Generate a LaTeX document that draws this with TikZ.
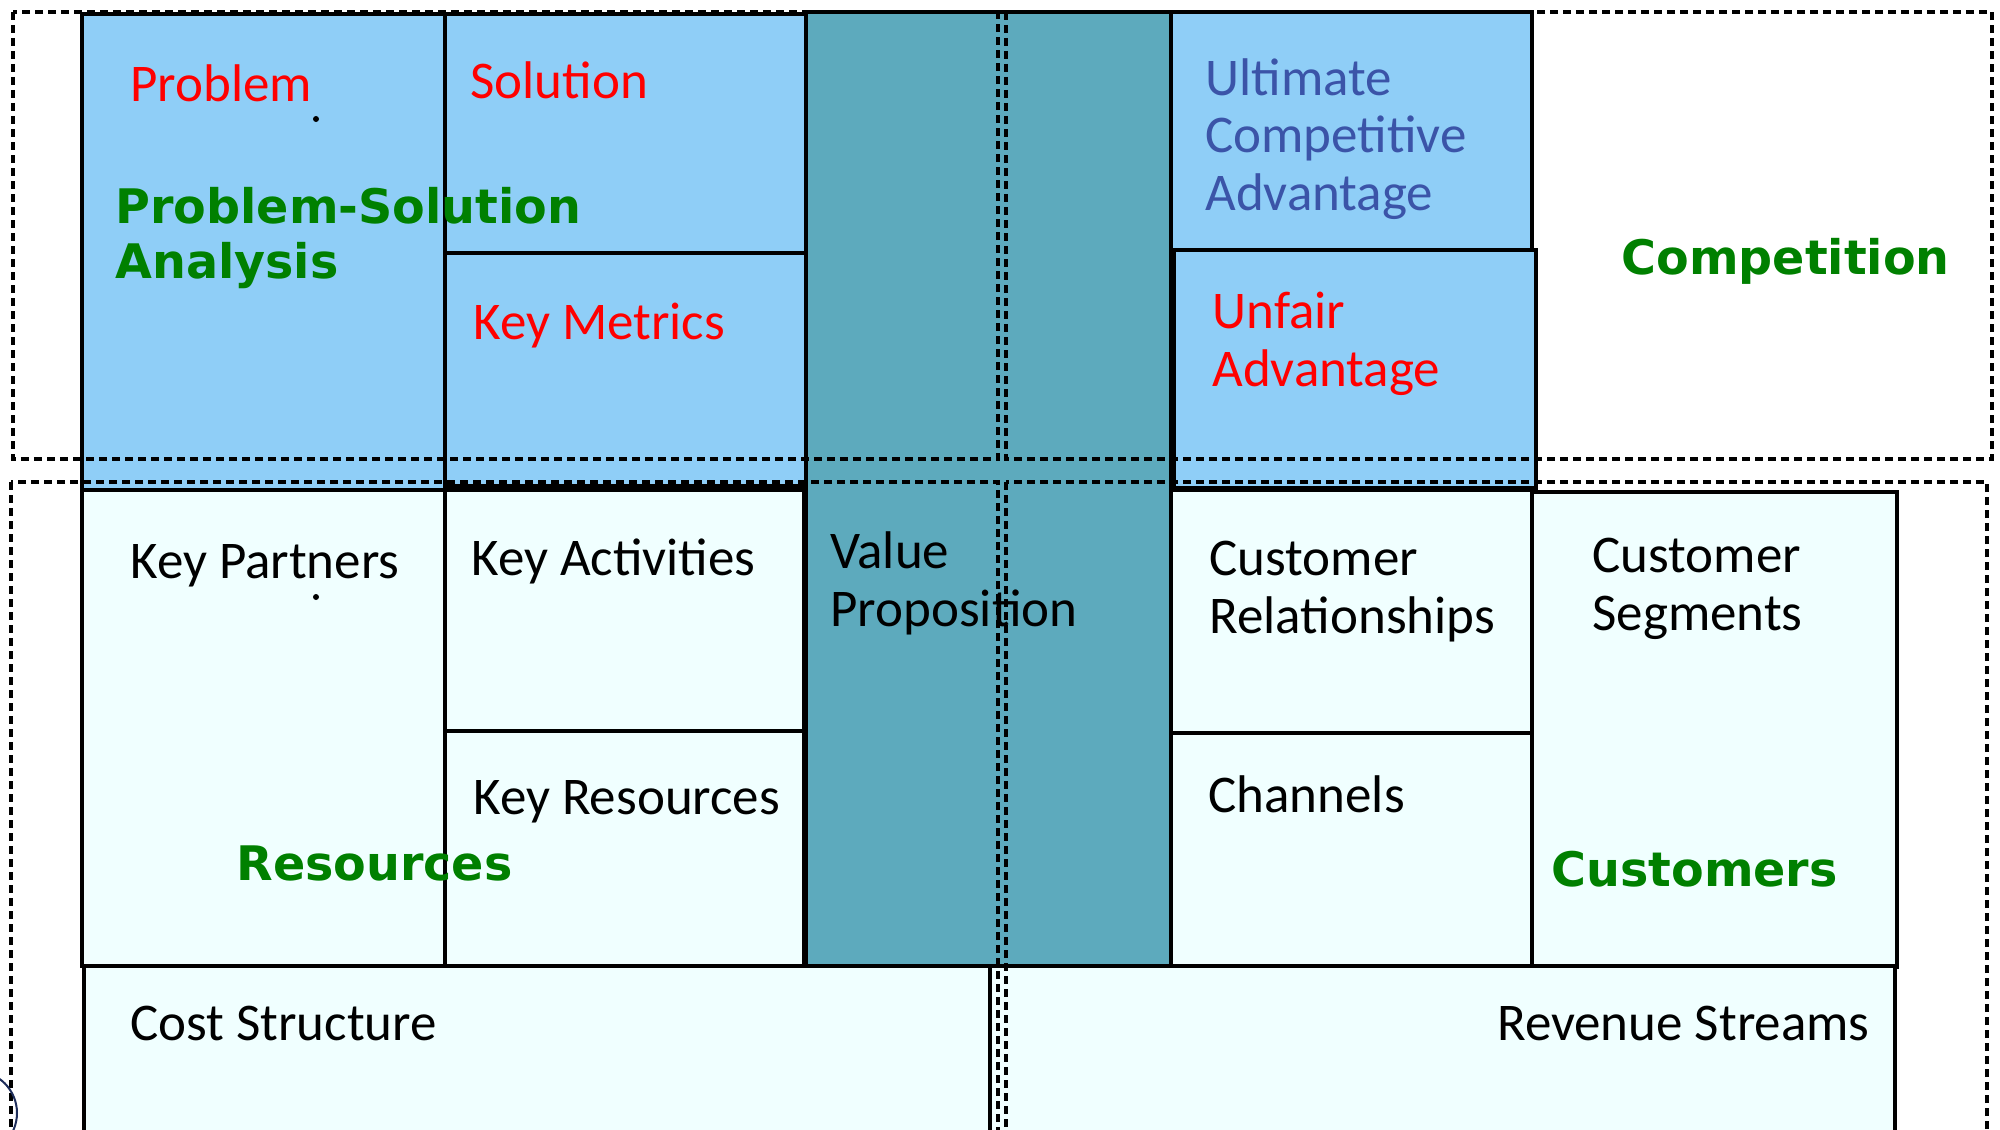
\documentclass[tikz,border=0pt]{standalone}
\usepackage{fontspec}
\setmainfont{Carlito}
\newfontfamily\headfont{DejaVu Sans}
\definecolor{psblue}{RGB}{143,206,247}
\definecolor{vpteal}{RGB}{93,170,189}
\definecolor{paleazure}{RGB}{240,255,255}
\definecolor{hdgreen}{RGB}{0,128,0}
\definecolor{ucablue}{RGB}{59,84,168}
\definecolor{ringnavy}{RGB}{30,45,90}
\begin{document}
\begin{tikzpicture}[
  x=0.5pt, y=-0.5pt,
  cell/.style={draw, line width=1.7pt},
  zone/.style={draw, line width=2pt, dash pattern=on 4pt off 2.5pt},
  txt/.style={
    anchor=base west,
    inner sep=0pt,
    align=left,
    font=\fontsize{26.5}{28.75}\selectfont
  },
  head/.style={
    anchor=base west,
    inner sep=0pt,
    align=left,
    text=hdgreen,
    font=\headfont\bfseries\fontsize{23.8}{27.5}\selectfont
  }
]
\useasboundingbox (0,0) rectangle (2000,1129);
\clip (0,0) rectangle (2000,1129);

% problem / solution side
\draw[cell, fill=psblue] (82,14) rectangle (445,490);
\draw[cell, fill=psblue] (445,14) rectangle (806,253);
\draw[cell, fill=psblue] (445,253) rectangle (806,486);
\draw[cell, fill=vpteal] (806,12) rectangle (1171,966);
\draw[cell, fill=psblue] (1171,12) rectangle (1532,250);
\draw[cell, fill=psblue] (1174,250) rectangle (1536,488);

% business model cells
\draw[cell, fill=paleazure] (82,490) rectangle (445,966);
\draw[cell, fill=paleazure] (445,490) rectangle (804,731);
\draw[cell, fill=paleazure] (445,731) rectangle (804,966);
\draw[cell, fill=paleazure] (1171,490) rectangle (1532,733);
\draw[cell, fill=paleazure] (1171,733) rectangle (1532,966);
\draw[cell, fill=paleazure] (1532,492) rectangle (1897,967);
\draw[cell, fill=paleazure] (84,966) rectangle (990,1140);
\draw[cell, fill=paleazure] (990,966) rectangle (1895,1140);

\node[txt, text=red] at (130,102) (problem) {Problem};
\node[txt, text=red] at (470,98) (solution) {Solution};
\node[txt, text=red] at (473,339) (metrics) {Key Metrics};
\node[txt, text=ucablue] at (1205,210) (uca) {Ultimate\\Competitive\\Advantage};
\node[txt, text=red] at (1212,386) (unfair) {Unfair\\Advantage};
\node[txt] at (130,578) (partners) {Key Partners};
\node[txt] at (471,575) (activities) {Key Activities};
\node[txt] at (830,626) (valueprop) {Value\\Proposition};
\node[txt] at (1209,633) (custrel) {Customer\\Relationships};
\node[txt] at (1592,630) (segments) {Customer\\Segments};
\node[txt] at (473,814) (resources) {Key Resources};
\node[txt] at (1208,812) (channels) {Channels};
\node[txt] at (130,1040) (cost) {Cost Structure};
\node[txt, anchor=base east] at (1870,1040) (revenue) {Revenue Streams};

\node[head] at (115,278) (psanalysis) {Problem-Solution\\Analysis};
\node[head] at (1621,274) (competition) {Competition};
\node[head] at (236,880) (resgroup) {Resources};
\node[head] at (1551,886) (custgroup) {Customers};

% dashed groupings
\draw[zone] (13,12) rectangle (998,459);
\draw[zone] (1006,12) rectangle (1992,459);
\draw[zone] (11,482) rectangle (998,1160);
\draw[zone] (1006,482) rectangle (1987,1160);

\fill (316,119) circle[radius=3];
\fill (316,597) circle[radius=3];
\draw[ringnavy, line width=1pt] (-25,1113) circle[radius=42];
\end{tikzpicture}
\end{document}
